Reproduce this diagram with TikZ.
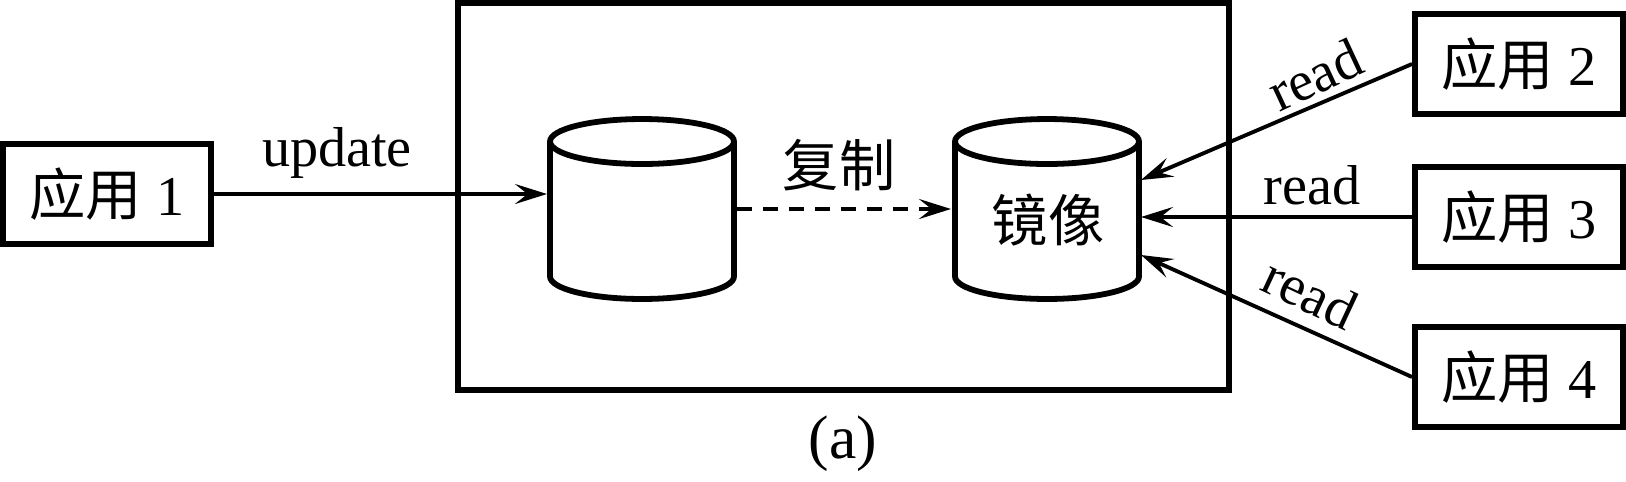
\documentclass[tikz,border=0pt]{standalone}
\usepackage{fontspec}
\setmainfont{Liberation Serif}
\newfontfamily\cjk{Noto Sans CJK SC}
\usetikzlibrary{shapes.geometric,arrows.meta,positioning}
\tikzset{
    appbox/.style={draw,line width=3.4pt,minimum width=4.16cm,minimum height=2cm,inner sep=0pt,font=\fontsize{32}{32}\selectfont},
    store/.style={draw,cylinder,anchor=shape center,shape border rotate=90,aspect=0.4,line width=3.3pt,minimum width=3.68cm,minimum height=3.6cm,inner sep=0pt,font=\cjk\fontsize{32}{32}\selectfont},
    link/.style={line width=2.2pt,-{Stealth[length=0.64cm,width=0.4cm,inset=0.25cm]}},
    lbl/.style={font=\fontsize{32}{32}\selectfont,inner sep=0pt}
}
\begin{document}
\begin{tikzpicture}[x=0.02cm,y=-0.02cm]
    \useasboundingbox (0,0) rectangle (1626,481);
    % Outer frame
    \node [draw,line width=3.4pt,minimum width=15.43cm,minimum height=7.74cm,inner sep=0pt] (frame) at (843.75,196.5) {};
    % Applications
    \node [appbox] (app1) at (107,194) {{\cjk 应用} 1};
    \node [appbox] (app2) at (1519,64) {{\cjk 应用} 2};
    \node [appbox] (app3) at (1519,217) {{\cjk 应用} 3};
    \node [appbox] (app4) at (1519,377) {{\cjk 应用} 4};
    % Stores
    \node [store] (src) at (642,209) {\phantom{镜像}};
    \node [store] (mirror) at (1047,209) {\phantom{镜像}};
    % Connectors
    \coordinate (srcin) at (547,194);
    \coordinate (srcout) at (737,209);
    \coordinate (mirrorin) at (951,209);
    \coordinate (mirrora) at (1141,180);
    \coordinate (mirrorb) at (1141,217);
    \coordinate (mirrorc) at (1141,255);
    \draw [link] (app1.east) -- (srcin);
    \draw [link,dash pattern=on 0.3cm off 0.22cm] (srcout) -- (mirrorin);
    \draw [link] (app2.west) -- (mirrora);
    \draw [link] (app3.west) -- (mirrorb);
    \draw [link] (app4.west) -- (mirrorc);
    % Labels
    \node [lbl,font=\cjk\fontsize{32}{32}\selectfont] (lmirror) at (1048,220) {镜像};
    \node [lbl] (lupdate) at (337,153) {update};
    \node [lbl,font=\cjk\fontsize{32}{32}\selectfont] (lcopy) at (839,165) {复制};
    \node [lbl,rotate=25] (lreadtwo) at (1315,75) {read};
    \node [lbl] (lreadthree) at (1312,185) {read};
    \node [lbl,rotate=-25] (lreadfour) at (1310,293) {read};
    \node [lbl,font=\fontsize{35}{35}\selectfont] (lcap) at (843,444) {(a)};
\end{tikzpicture}
\end{document}
